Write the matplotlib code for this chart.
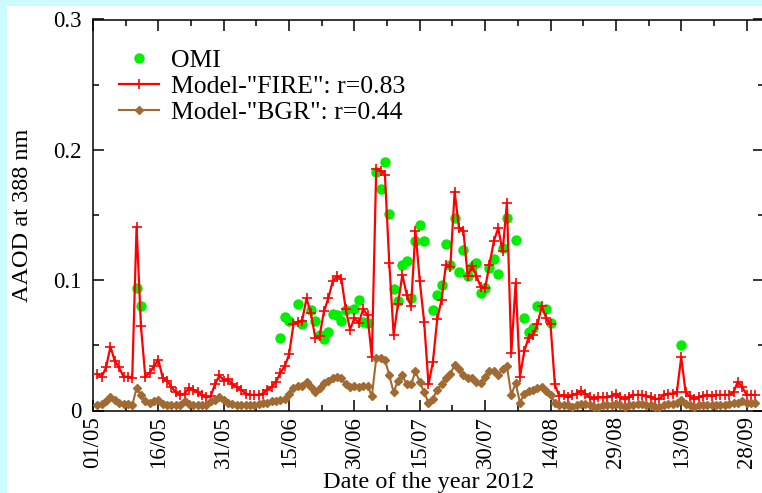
import numpy as np
import matplotlib
matplotlib.use('Agg')
import matplotlib.pyplot as plt
from matplotlib.patches import Rectangle
from matplotlib.ticker import MultipleLocator

plt.rcParams['font.family'] = ['Liberation Serif', 'DejaVu Serif']

# daily model values, 02/05/2012 ... 30/09/2012 (day 1 = 02/05)
start_date = np.datetime64('2012-05-01')
first_day = 1

fire = [0.028, 0.026, 0.033, 0.049, 0.038, 0.033, 0.026, 0.026, 0.025, 0.141,
        0.065, 0.026, 0.029, 0.034, 0.039, 0.025, 0.023, 0.018, 0.014, 0.012,
        0.013, 0.017, 0.016, 0.014, 0.012, 0.010, 0.011, 0.020, 0.027, 0.023,
        0.024, 0.020, 0.018, 0.016, 0.013, 0.012, 0.012, 0.012, 0.013, 0.016,
        0.018, 0.022, 0.029, 0.034, 0.043, 0.066, 0.068, 0.069, 0.086, 0.075,
        0.056, 0.057, 0.076, 0.086, 0.099, 0.103, 0.101, 0.078, 0.062, 0.071,
        0.067, 0.078, 0.073, 0.041, 0.185, 0.184, 0.181, 0.113, 0.058, 0.082,
        0.104, 0.089, 0.080, 0.138, 0.099, 0.068, 0.020, 0.037, 0.070, 0.085,
        0.112, 0.110, 0.168, 0.140, 0.138, 0.103, 0.111, 0.103, 0.095, 0.094,
        0.112, 0.130, 0.140, 0.122, 0.159, 0.044, 0.098, 0.026, 0.046, 0.056,
        0.058, 0.066, 0.080, 0.071, 0.066, 0.020, 0.011, 0.012, 0.010, 0.012,
        0.013, 0.015, 0.013, 0.010, 0.009, 0.010, 0.010, 0.010, 0.011, 0.013,
        0.010, 0.009, 0.010, 0.012, 0.012, 0.012, 0.011, 0.010, 0.009, 0.009,
        0.012, 0.013, 0.013, 0.014, 0.041, 0.014, 0.011, 0.009, 0.010, 0.011,
        0.012, 0.011, 0.012, 0.012, 0.012, 0.012, 0.014, 0.022, 0.018, 0.012,
        0.012, 0.012]

bgr = [0.004, 0.005, 0.007, 0.010, 0.008, 0.006, 0.005, 0.005, 0.004, 0.017,
       0.012, 0.007, 0.006, 0.007, 0.008, 0.005, 0.004, 0.004, 0.004, 0.004,
       0.007, 0.005, 0.004, 0.004, 0.004, 0.004, 0.007, 0.008, 0.010, 0.008,
       0.006, 0.005, 0.004, 0.004, 0.004, 0.004, 0.004, 0.005, 0.006, 0.006,
       0.007, 0.007, 0.008, 0.009, 0.013, 0.017, 0.019, 0.019, 0.022, 0.018,
       0.014, 0.017, 0.021, 0.023, 0.025, 0.026, 0.025, 0.020, 0.018, 0.019,
       0.018, 0.019, 0.019, 0.011, 0.040, 0.040, 0.039, 0.027, 0.014, 0.023,
       0.027, 0.020, 0.020, 0.030, 0.022, 0.014, 0.006, 0.009, 0.016, 0.020,
       0.025, 0.028, 0.035, 0.032, 0.027, 0.025, 0.025, 0.022, 0.021, 0.026,
       0.030, 0.030, 0.027, 0.032, 0.034, 0.012, 0.021, 0.006, 0.013, 0.015,
       0.016, 0.017, 0.018, 0.015, 0.012, 0.006, 0.004, 0.004, 0.004, 0.003,
       0.004, 0.005, 0.005, 0.004, 0.003, 0.003, 0.004, 0.004, 0.004, 0.005,
       0.004, 0.003, 0.004, 0.004, 0.005, 0.005, 0.004, 0.004, 0.003, 0.003,
       0.004, 0.005, 0.005, 0.006, 0.008, 0.005, 0.004, 0.003, 0.004, 0.004,
       0.004, 0.004, 0.004, 0.004, 0.004, 0.005, 0.006, 0.006, 0.007, 0.006,
       0.006, 0.006]

# OMI observations (day since 01/05, value)
omi_day = [10, 11, 43, 44, 45, 47, 48, 50, 51, 52, 53, 54, 55, 56, 57, 58,
           60, 61, 62, 63, 65, 66, 67, 68, 69, 70, 71, 72, 73, 74, 75, 76,
           78, 79, 80, 81, 82, 83, 84, 85, 86, 87, 88, 89, 90, 91, 92, 93,
           94, 95, 97, 99, 100, 101, 102, 104, 105, 135]
omi_val = [0.094, 0.080, 0.056, 0.072, 0.069, 0.082, 0.066, 0.077, 0.069, 0.058,
           0.055, 0.060, 0.074, 0.073, 0.069, 0.077, 0.078, 0.085, 0.068, 0.067,
           0.183, 0.170, 0.191, 0.151, 0.093, 0.084, 0.112, 0.115, 0.086, 0.130,
           0.142, 0.130, 0.077, 0.089, 0.096, 0.128, 0.112, 0.148, 0.106, 0.123,
           0.103, 0.110, 0.113, 0.090, 0.094, 0.109, 0.116, 0.105, 0.125, 0.148,
           0.131, 0.071, 0.060, 0.063, 0.080, 0.078, 0.067, 0.050]

r_fire = 0.83
r_bgr = 0.44

tick_labels = ['01/05', '16/05', '31/05', '15/06', '30/06', '15/07', '30/07',
               '14/08', '29/08', '13/09', '28/09']


def label_to_day(lbl):
    dd, mm = lbl.split('/')
    return int((np.datetime64('2012-%s-%s' % (mm, dd)) - start_date) / np.timedelta64(1, 'D'))


def main():
    days = np.arange(first_day, first_day + len(fire))
    tick_pos = [label_to_day(t) for t in tick_labels]

    fig = plt.figure(figsize=(7.62, 4.93), dpi=100)
    fig.patch.set_facecolor('#cdfafc')
    fig.add_artist(Rectangle((7 / 762, 0), 1, 1 - 6 / 493, transform=fig.transFigure,
                             facecolor='white', edgecolor='none', zorder=-10))

    ax = fig.add_axes([93 / 762, 82.5 / 493, 671 / 762, 391 / 493])

    ax.plot(omi_day, omi_val, linestyle='none', marker='o', markersize=6.5,
            color='#00ee00', label='OMI', zorder=2)
    ax.plot(days, fire, color='#ff0000', linewidth=1.6, marker='+', markersize=6.5,
            markeredgewidth=1.2, label='Model-"FIRE": r=%.2f' % r_fire, zorder=3)
    ax.plot(days, bgr, color='#a06a32', linewidth=1.5, marker='D', markersize=3.8,
            label='Model-"BGR": r=%.2f' % r_bgr, zorder=4)

    ax.set_xlim(0, 154)
    ax.set_ylim(0, 0.3)
    ax.set_xticks(tick_pos)
    ax.set_xticklabels(tick_labels, rotation=90)
    ax.xaxis.set_minor_locator(MultipleLocator(7.5))
    ax.set_yticks([0, 0.1, 0.2, 0.3])
    ax.set_yticklabels(['0', '0.1', '0.2', '0.3'])
    ax.yaxis.set_minor_locator(MultipleLocator(0.05))

    ax.tick_params(which='both', direction='in', top=True, right=True, width=1.1)
    ax.tick_params(which='major', length=8, labelsize=16.5)
    ax.tick_params(which='minor', length=4.5)
    ax.tick_params(axis='y', pad=8)
    ax.tick_params(axis='x', pad=4)
    for sp in ax.spines.values():
        sp.set_linewidth(1.1)

    ax.set_xlabel('Date of the year 2012', fontsize=17.5)
    ax.set_ylabel('AAOD at 388 nm', fontsize=17.5)
    ax.xaxis.set_label_coords(0.5, -0.157)
    ax.yaxis.set_label_coords(-0.089, 0.5)

    ax.legend(loc='upper left', bbox_to_anchor=(0.039, 0.925), frameon=False,
              fontsize=18.5, handlelength=1.55, handletextpad=0.45, labelspacing=0.12,
              borderpad=0, borderaxespad=0)

    fig.savefig('out.png', dpi=100, facecolor=fig.get_facecolor())


if __name__ == '__main__':
    main()
